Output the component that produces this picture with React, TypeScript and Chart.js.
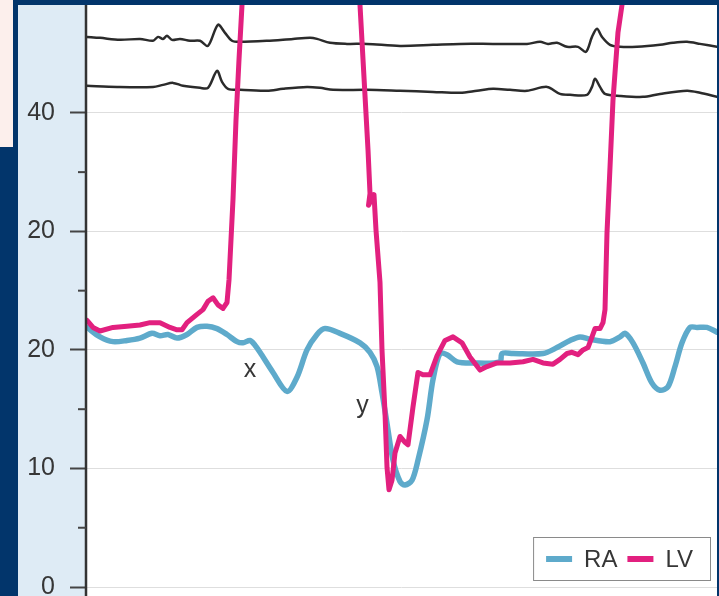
import React, { useEffect, useRef } from 'react';
import { Chart, registerables } from 'chart.js';

Chart.register(...registerables);

// ---- data (time in arbitrary ms-like units, pressure in mmHg) ----
const raTime = [1, 14, 27, 41, 54, 66, 74, 82, 91, 101, 111, 121, 131, 141, 151, 157, 164, 169, 174, 187, 201, 211, 221, 231, 239, 254, 274, 284, 291, 296, 301, 307, 314, 319, 326, 332, 341, 347, 354, 361, 371, 387, 414, 416, 427, 457, 471, 484, 494, 504, 524, 534, 539, 547, 557, 566, 574, 582, 589, 596, 604, 611, 621, 631];
const raPressure = [21.9, 21.1, 20.7, 20.8, 21.0, 21.4, 21.2, 21.3, 21.0, 21.3, 21.9, 22.0, 21.8, 21.3, 20.7, 20.6, 20.8, 20.4, 19.8, 18.1, 16.5, 17.7, 20.0, 21.3, 21.8, 21.4, 20.6, 19.8, 18.6, 16.4, 13.8, 10.7, 8.9, 8.6, 9.0, 10.7, 14.1, 17.5, 19.7, 19.6, 19.0, 18.9, 19.0, 19.7, 19.7, 19.7, 20.2, 20.8, 21.1, 20.9, 20.7, 21.1, 21.4, 20.6, 18.9, 17.2, 16.6, 16.9, 18.6, 20.6, 21.9, 21.9, 21.9, 21.5];

const lvTime = [1, 7, 14, 27, 41, 54, 64, 74, 84, 91, 96, 101, 111, 117, 122, 127, 132, 137, 141, 143, 145, 147, 150, 153, 156, 162, 268, 274, 282, 284, 282.5, 288, 290, 294, 296, 299, 301, 303, 306, 309, 314, 319, 322, 327, 332, 337, 344, 351, 359, 367, 376, 384, 394, 401, 411, 424, 437, 447, 457, 467, 474, 481, 486, 492, 497, 502, 506, 509, 514, 517, 519, 521, 524, 527, 532, 536, 542];
const lvPressure = [22.5, 21.9, 21.6, 21.9, 22.0, 22.1, 22.3, 22.3, 21.9, 21.7, 21.7, 22.3, 23.0, 23.4, 24.1, 24.4, 23.8, 23.5, 24.0, 25.9, 29.3, 32.7, 39.4, 44.5, 49.1, 58, 58, 49.1, 36.9, 33.2, 32.2, 33.1, 30.1, 25.7, 20.0, 14.7, 10.1, 8.2, 9.0, 11.3, 12.7, 12.2, 12.0, 15.2, 18.1, 17.9, 17.9, 19.5, 20.8, 21.1, 20.6, 19.4, 18.3, 18.6, 18.9, 18.9, 19.0, 19.2, 18.9, 18.8, 19.2, 19.7, 19.8, 19.6, 20.0, 20.2, 21.1, 21.8, 21.8, 22.3, 23.4, 29.9, 35.4, 41.1, 46.8, 49.1, 58];

const upperTraceTime = [1, 14, 34, 54, 67, 72, 77, 81, 86, 94, 104, 114, 122, 132, 139, 146, 154, 181, 207, 224, 231, 244, 261, 281, 314, 347, 374, 407, 441, 454, 462, 471, 481, 492, 500, 506, 511, 516, 524, 534, 551, 574, 587, 601, 614, 631];
const upperTraceValue = [46.41, 46.33, 46.16, 46.24, 46.08, 46.41, 46.24, 46.5, 46.16, 46.24, 46.08, 46.08, 45.65, 47.43, 46.75, 46.08, 45.99, 46.08, 46.24, 46.33, 46.24, 45.91, 45.82, 45.82, 45.65, 45.74, 45.82, 45.82, 45.82, 45.99, 45.82, 45.91, 45.57, 45.57, 45.15, 46.41, 47.09, 46.41, 45.74, 45.57, 45.57, 45.74, 45.91, 45.99, 45.82, 45.57];

const lowerTraceTime = [1, 31, 67, 77, 87, 97, 114, 122, 131, 136, 142, 154, 181, 197, 221, 234, 247, 281, 314, 347, 374, 391, 407, 424, 441, 461, 474, 484, 501, 506, 509, 514, 519, 534, 557, 574, 601, 614, 631];
const lowerTraceValue = [42.28, 42.19, 42.19, 42.36, 42.53, 42.28, 42.11, 42.11, 43.54, 42.62, 42.03, 41.94, 41.86, 42.03, 42.19, 42.11, 41.94, 41.94, 41.86, 41.77, 41.69, 41.86, 42.03, 41.94, 41.86, 42.19, 41.6, 41.52, 41.52, 42.19, 42.87, 42.19, 41.6, 41.43, 41.35, 41.6, 41.86, 41.69, 41.35];

const yTickValues = [0, 10, 20, 30, 40];
const yTickLabels = ['0', '10', '20', '20', '40'];
const yMinorTicks = [5, 15, 25, 35];
const legendLabels = ['RA', 'LV'];
const waveLabels = ['x', 'y'];
const waveLabelTime = [164, 276.5];
const waveLabelValue = [17.7, 14.7];

const NAVY = '#02356b';
const RA_COLOR = '#5eaacb';
const LV_COLOR = '#e2207f';
const TRACE_COLOR = '#2b2b2b';
const TEXT_COLOR = '#363636';
const FONT = '"Liberation Sans", Arial, Helvetica, sans-serif';

const toPoints = (xs: number[], ys: number[]) => xs.map((x, i) => ({ x, y: ys[i] }));

const framePlugin = {
  id: 'frame',
  beforeDraw(chart: any) {
    const { ctx, width, height, chartArea: a } = chart;
    ctx.save();
    ctx.fillStyle = NAVY;
    ctx.fillRect(0, 0, width, height);
    ctx.fillStyle = '#fcefec';
    ctx.fillRect(0, 0, 13, 147);
    ctx.fillStyle = '#deebf5';
    ctx.fillRect(18, a.top, a.left - 18, height - a.top);
    ctx.fillStyle = '#ffffff';
    ctx.fillRect(a.left, a.top, a.right - a.left, height - a.top);
    ctx.restore();
  },
  afterDraw(chart: any) {
    const { ctx, height, chartArea: a } = chart;
    const yScale = chart.scales.y;
    const xScale = chart.scales.x;
    ctx.save();
    // axis line
    ctx.strokeStyle = '#333';
    ctx.lineWidth = 2.5;
    ctx.beginPath();
    ctx.moveTo(a.left, a.top);
    ctx.lineTo(a.left, height);
    ctx.stroke();
    // minor ticks
    ctx.strokeStyle = '#444';
    ctx.lineWidth = 2;
    yMinorTicks.forEach((v) => {
      const y = yScale.getPixelForValue(v);
      ctx.beginPath();
      ctx.moveTo(a.left - 8, y);
      ctx.lineTo(a.left, y);
      ctx.stroke();
    });
    // wave labels
    ctx.fillStyle = TEXT_COLOR;
    ctx.font = `25px ${FONT}`;
    ctx.textAlign = 'center';
    ctx.textBaseline = 'alphabetic';
    waveLabels.forEach((t, i) => {
      ctx.fillText(t, xScale.getPixelForValue(waveLabelTime[i]), yScale.getPixelForValue(waveLabelValue[i]));
    });
    // legend
    ctx.font = `24px ${FONT}`;
    const sw = 26;
    const padL = 13, gapText = 12, gapItem = 10, padR = 18;
    const widths = legendLabels.map((l) => ctx.measureText(l).width);
    let total = padL + padR;
    widths.forEach((w, i) => { total += sw + gapText + w + (i < widths.length - 1 ? gapItem : 0); });
    const boxH = 44;
    const right = a.right - 6;
    const bottom = a.bottom - 6;
    const left = right - total;
    const top = bottom - boxH;
    ctx.fillStyle = '#fff';
    ctx.fillRect(left, top, total, boxH);
    ctx.strokeStyle = '#8a8a8a';
    ctx.lineWidth = 1;
    ctx.strokeRect(left + 0.5, top + 0.5, total - 1, boxH - 1);
    let x = left + padL;
    const cy = top + boxH / 2;
    legendLabels.forEach((l, i) => {
      const ds = chart.data.datasets.find((d: any) => d.label === l);
      ctx.fillStyle = ds ? ds.borderColor : '#000';
      ctx.fillRect(x, cy - 3, sw, 6);
      x += sw + gapText;
      ctx.fillStyle = TEXT_COLOR;
      ctx.textAlign = 'left';
      ctx.textBaseline = 'middle';
      ctx.fillText(l, x, cy + 1);
      x += widths[i] + gapItem;
    });
    ctx.restore();
  },
};

export default function App() {
  const ref = useRef<HTMLCanvasElement | null>(null);

  useEffect(() => {
    if (!ref.current) return;
    const chart = new Chart(ref.current, {
      type: 'line',
      data: {
        datasets: [
          {
            label: 'RA',
            data: toPoints(raTime, raPressure),
            borderColor: RA_COLOR,
            borderWidth: 5.5,
            tension: 0.3,
            order: 1,
          },
          {
            label: 'LV',
            data: toPoints(lvTime, lvPressure),
            borderColor: LV_COLOR,
            borderWidth: 5,
            tension: 0,
            order: 0,
          },
          {
            label: '',
            data: toPoints(upperTraceTime, upperTraceValue),
            borderColor: TRACE_COLOR,
            borderWidth: 2.5,
            tension: 0.3,
            order: 2,
          },
          {
            label: '',
            data: toPoints(lowerTraceTime, lowerTraceValue),
            borderColor: TRACE_COLOR,
            borderWidth: 2.5,
            tension: 0.3,
            order: 2,
          },
        ] as any,
      },
      options: {
        animation: false,
        responsive: false,
        devicePixelRatio: 1,
        layout: { padding: { left: 0, right: 2, top: 5, bottom: 9 } },
        elements: {
          point: { radius: 0, hoverRadius: 0 },
          line: { borderJoinStyle: 'round', borderCapStyle: 'round', fill: false },
        },
        datasets: { line: { clip: 0 } } as any,
        plugins: {
          legend: { display: false },
          tooltip: { enabled: false },
        },
        events: [],
        scales: {
          x: { type: 'linear', min: 0, max: 631, display: false },
          y: {
            type: 'linear',
            min: 0,
            max: 49.1,
            afterFit(scale: any) {
              scale.width = 86;
              scale.paddingTop = 0;
              scale.paddingBottom = 0;
            },
            border: { display: false },
            grid: {
              color: '#dedede',
              lineWidth: 1,
              tickLength: 16,
              tickColor: '#444',
              tickWidth: 2,
            } as any,
            ticks: {
              stepSize: 10,
              includeBounds: false,
              padding: 15,
              color: TEXT_COLOR,
              font: { family: FONT, size: 25, lineHeight: 0.6 },
              callback: (v: any) => {
                const i = yTickValues.indexOf(Number(v));
                return i >= 0 ? yTickLabels[i] : '';
              },
            },
          },
        },
      },
      plugins: [framePlugin],
    });
    return () => chart.destroy();
  }, []);

  return (
    <div style={{ position: 'absolute', left: 0, top: 0, width: 719, height: 596, overflow: 'hidden' }}>
      <canvas ref={ref} width={719} height={596} style={{ display: 'block' }} />
    </div>
  );
}
